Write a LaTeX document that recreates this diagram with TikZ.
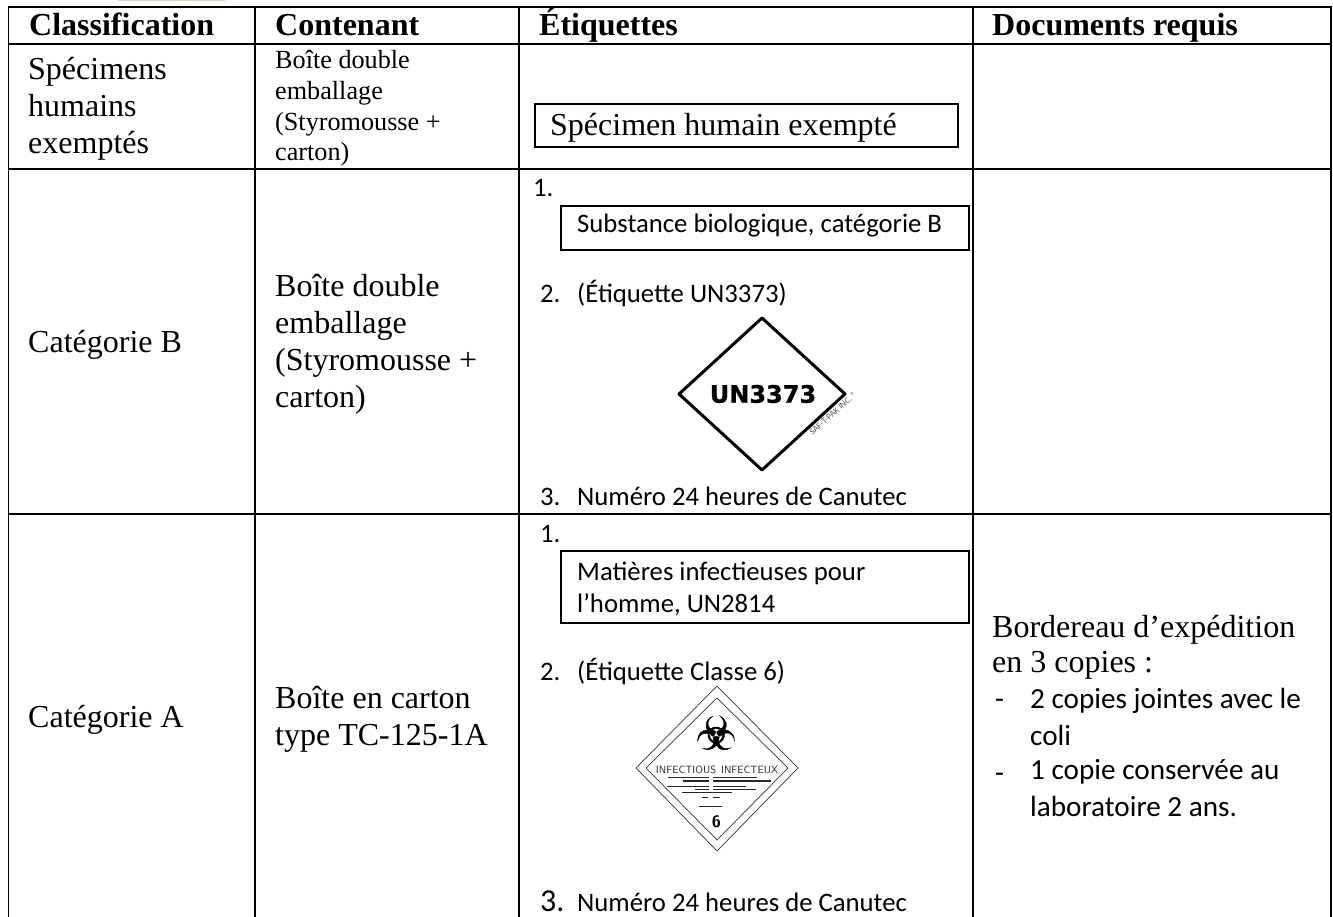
\documentclass[tikz,border=0pt]{standalone}
\usepackage{fontspec}
\setmainfont{Liberation Serif}
\newfontfamily\calb{Carlito}
\newfontfamily\dvb[BoldFeatures={FakeBold=1}]{DejaVu Sans}
\definecolor{palegreen}{RGB}{205,222,200}
\tikzset{
 grid/.style={line width=1.8pt,black},
 tm/.style={inner sep=0pt,anchor=base west,align=left,font=\fontsize{32}{37}\selectfont},
 ts/.style={inner sep=0pt,anchor=base west,align=left,font=\fontsize{26.2}{30.7}\selectfont},
 hd/.style={inner sep=0pt,anchor=base west,font=\fontsize{32}{36}\selectfont\bfseries},
 cb/.style={inner sep=0pt,anchor=base west,align=left,font=\fontsize{26.7}{32}\selectfont\calb},
 cr/.style={inner sep=0pt,anchor=base west,align=left,font=\fontsize{29.2}{36.8}\selectfont\calb},
 lbl/.style={line width=1.5pt},
 stripe/.style={line width=1pt,black!85},
}
\begin{document}
\begin{tikzpicture}[x=1pt,y=-1pt]
\useasboundingbox (0,0) rectangle (1333,917);
\fill[white] (0,0) rectangle (1333,917);
\fill[palegreen] (118,0) rectangle (225,1.5);
% grid
\draw[grid] (8.5,917) -- (8.5,7) -- (1331,7) -- (1331,917);
\draw[grid] (255,7) -- (255,917);
\draw[grid] (519,7) -- (519,917);
\draw[grid] (973,7) -- (973,917);
\draw[grid] (8.5,44) -- (1331,44);
\draw[grid] (8.5,169) -- (1331,169);
\draw[grid] (8.5,514) -- (1331,514);
% header
\node[hd] (h1) at (29,36) {Classification};
\node[hd] (h2) at (275,36) {Contenant};
\node[hd] (h3) at (539,36) {Étiquettes};
\node[hd] (h4) at (992,36) {Documents requis};
% row 1
\node[tm] (r1a) at (28,154) {Spécimens\\humains\\exemptés};
\node[ts] (r1b) at (275,161) {Boîte double\\emballage\\(Styromousse +\\carton)};
\draw[lbl] (535,104) rectangle (958,147);
\node[tm] (r1t) at (550,136) {Spécimen humain exempté};
% row 2
\node[tm] (r2a) at (28,352) {Catégorie B};
\node[tm] (r2b) at (275,407) {Boîte double\\emballage\\(Styromousse +\\carton)};
\node[cb] (n1) at (533,197) {1.};
\draw[lbl] (561,206) rectangle (969,250);
\node[cb] (r2t) at (577,233) {Substance biologique, catégorie B};
\node[cb] (n2) at (540,303) {2.};
\node[cb] (n2t) at (577,303) {(Étiquette UN3373)};
\draw[line width=3pt,line join=round] (762,318) -- (845,394) -- (762,470) -- (679,394) -- cycle;
\node[inner sep=0pt,font=\fontsize{24}{28}\selectfont\dvb\bfseries] (un) at (763,394) {UN3373};
\node[inner sep=0pt,rotate=42,black!65,font=\fontsize{9}{10}\selectfont\calb] (saf) at (833,413) {SAF-T-PAK INC. ®};
\node[cb] (n3) at (540,505) {3.};
\node[cb] (n3t) at (577,505) {Numéro 24 heures de Canutec};
% row 3
\node[tm] (r3a) at (28,727) {Catégorie A};
\node[tm] (r3b) at (275,745) {Boîte en carton\\type TC-125-1A};
\node[cb] (m1) at (540,542) {1.};
\draw[lbl] (561,551) rectangle (969,623);
\node[cb] (r3t) at (577,612) {Matières infectieuses pour\\l’homme, UN2814};
\node[cb] (m2) at (540,680) {2.};
\node[cb] (m2t) at (577,680) {(Étiquette Classe 6)};
\draw[line width=.7pt,black!80] (717,686) -- (798,768) -- (717,851) -- (636,768) -- cycle;
\draw[line width=.7pt,black!80] (717,698) -- (788,768) -- (717,840) -- (646,768) -- cycle;
\node[inner sep=0pt,font=\fontsize{46}{46}\selectfont\dvb\bfseries] (bio) at (716,733) {☣};
\node[inner sep=0pt,black!85,font=\fontsize{10.5}{12}\selectfont\sffamily] (inf) at (717,770) {INFECTIOUS\hspace{5pt}INFECTEUX};
\draw[stripe] (668,777) -- (709,777) (713,777) -- (757,777);
\draw[stripe,line width=1.6pt] (683,781) -- (709,781) (713,781) -- (771,781);
\draw[stripe] (667,786) -- (709,786) (713,786) -- (746,786);
\draw[stripe] (695,789) -- (709,789) (713,789) -- (756,789);
\draw[stripe] (682,792) -- (732,792);
\draw[stripe] (702,797) -- (708,797) (713,797) -- (720,797);
\draw[stripe] (699,806) -- (722,806);
\node[inner sep=0pt,font=\fontsize{16.5}{18}\selectfont\sffamily\bfseries] (six) at (716.5,822) {6};
\node[cb,font=\fontsize{32}{36}\selectfont\calb] (m3) at (540,911) {3.};
\node[cb] (m3t) at (577,911) {Numéro 24 heures de Canutec};
\node[tm,font=\fontsize{32}{35}\selectfont] (r3d) at (992,672) {Bordereau d’expédition\\en 3 copies :};
\node[cr] (d1) at (995,708) {-};
\node[cr] (d1t) at (1030,745) {2 copies jointes avec le\\coli};
\node[cr] (d2) at (995,782) {-};
\node[cr] (d2t) at (1030,816) {1 copie conservée au\\laboratoire 2 ans.};
\end{tikzpicture}
\end{document}
